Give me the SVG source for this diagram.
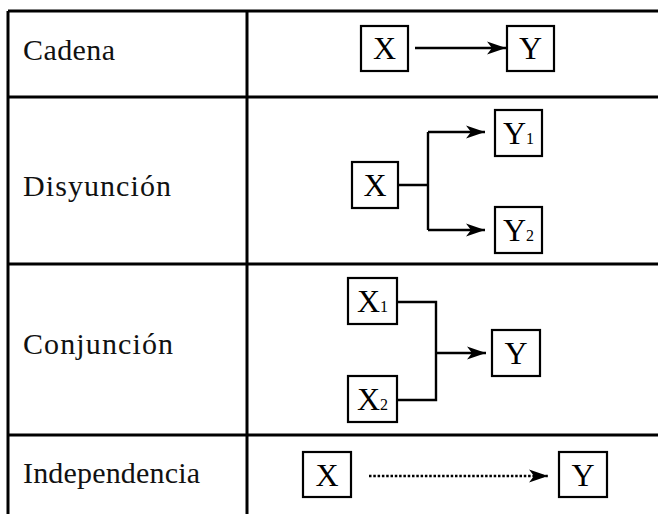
<svg xmlns="http://www.w3.org/2000/svg" width="658" height="514" viewBox="0 0 658 514">
<style>
.grid{stroke:#000;stroke-width:3;fill:none}
.lbl{font-family:'Liberation Serif','DejaVu Serif',serif;font-size:30px;fill:#111}
.box{fill:#fff;stroke:#000;stroke-width:2.2}
.bt{font-family:'Liberation Serif','DejaVu Serif',serif;font-size:32px;fill:#000;text-anchor:middle}
.sub{font-size:16px}
.con{stroke:#000;stroke-width:2.4;fill:none}
.dot{stroke:#000;stroke-width:2.6;fill:none;stroke-dasharray:2.5,1.8}
</style>
<defs>
<marker id="arr" markerUnits="userSpaceOnUse" markerWidth="22" markerHeight="16" refX="19" refY="7" orient="auto">
<path d="M0,0.5 L19,7 L0,13.5 L5,7 z" fill="#000"/>
</marker>
</defs>
<rect width="658" height="514" fill="#fff"/>
<g id="table">
<path class="grid" d="M8,11 H658 M8,97 H658 M8,264 H658 M8,435 H658 M8,11 V514 M247,11 V514"/>
</g>
<g id="labels">
<text class="lbl" x="23" y="60" textLength="92" lengthAdjust="spacing">Cadena</text>
<text class="lbl" x="23" y="196" textLength="148" lengthAdjust="spacing">Disyunción</text>
<text class="lbl" x="23" y="354" textLength="150" lengthAdjust="spacing">Conjunción</text>
<text class="lbl" x="23" y="483" textLength="177" lengthAdjust="spacing">Independencia</text>
</g>
<g id="connectors">
<line class="con" x1="415" y1="48" x2="506" y2="48" marker-end="url(#arr)"/>
<path class="con" d="M398,185 H428 M428,132 V230"/>
<line class="con" x1="428" y1="132" x2="485" y2="132" marker-end="url(#arr)"/>
<line class="con" x1="428" y1="230" x2="485" y2="230" marker-end="url(#arr)"/>
<path class="con" d="M397,302 H436 V400 H397"/>
<line class="con" x1="436" y1="353" x2="486" y2="353" marker-end="url(#arr)"/>
<line class="dot" x1="369" y1="476" x2="548" y2="476" marker-end="url(#arr)"/>
</g>
<g id="cadena-x"><rect class="box" x="361" y="26" width="47" height="45"/><text class="bt" x="384.5" y="59">X</text></g>
<g id="cadena-y"><rect class="box" x="507" y="26" width="47" height="45"/><text class="bt" x="530.5" y="59">Y</text></g>
<g id="disy-x"><rect class="box" x="352" y="162" width="46" height="46"/><text class="bt" x="375" y="196">X</text></g>
<g id="disy-y1"><rect class="box" x="495" y="110" width="47" height="46"/><text class="bt" x="518.5" y="144">Y<tspan class="sub">1</tspan></text></g>
<g id="disy-y2"><rect class="box" x="495" y="207" width="47" height="46"/><text class="bt" x="518.5" y="241">Y<tspan class="sub">2</tspan></text></g>
<g id="conj-x1"><rect class="box" x="348" y="278" width="49" height="46"/><text class="bt" x="372.5" y="312">X<tspan class="sub">1</tspan></text></g>
<g id="conj-x2"><rect class="box" x="348" y="376" width="49" height="46"/><text class="bt" x="372.5" y="410">X<tspan class="sub">2</tspan></text></g>
<g id="conj-y"><rect class="box" x="492" y="330" width="48" height="46"/><text class="bt" x="516" y="364">Y</text></g>
<g id="indep-x"><rect class="box" x="303" y="452" width="48" height="45"/><text class="bt" x="327" y="486">X</text></g>
<g id="indep-y"><rect class="box" x="559" y="452" width="48" height="45"/><text class="bt" x="583" y="486">Y</text></g>
</svg>
